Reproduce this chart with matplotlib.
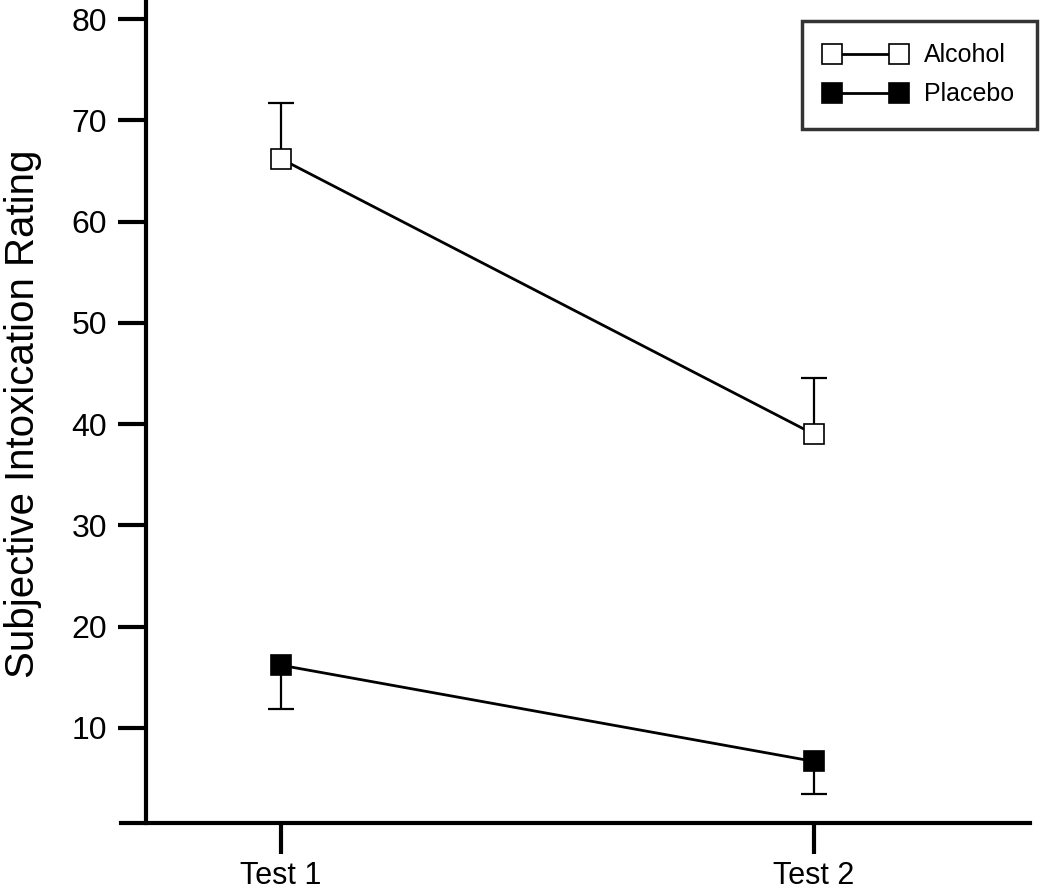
import matplotlib
matplotlib.use("Agg")
import matplotlib.pyplot as plt
import numpy as np

plt.rcParams['font.family'] = ['Liberation Sans', 'DejaVu Sans']

categories = ["Test 1", "Test 2"]
x_pos = [1, 2]
alcohol = [66.2, 39.0]
alcohol_err_up = [5.5, 5.6]
placebo = [16.2, 6.7]
placebo_err_down = [4.3, 3.2]
y_ticks = [10, 20, 30, 40, 50, 60, 70, 80]

fig = plt.figure(figsize=(10.5, 8.9), dpi=100)
ax = fig.add_axes([121/1050, (890-823)/890, (1030-121)/1050, 823/890])

x = np.array(x_pos, dtype=float)
a = np.array(alcohol)
p = np.array(placebo)
ae = np.array(alcohol_err_up)
pe = np.array(placebo_err_down)

lw_err = 1.6
cap_ms = 19
# error bars (one-sided)
ax.vlines(x, a, a + ae, colors='black', linewidth=lw_err, zorder=2)
ax.plot(x, a + ae, linestyle='none', marker='_', markersize=cap_ms, markeredgewidth=lw_err, color='black', zorder=2)
ax.vlines(x, p - pe, p, colors='black', linewidth=lw_err, zorder=2)
ax.plot(x, p - pe, linestyle='none', marker='_', markersize=cap_ms, markeredgewidth=lw_err, color='black', zorder=2)

ax.plot(x, a, color='black', linewidth=2.0, marker='s', markersize=14,
        markerfacecolor='white', markeredgecolor='black', markeredgewidth=1.2,
        label='Alcohol', zorder=3)
ax.plot(x, p, color='black', linewidth=2.0, marker='s', markersize=14,
        markerfacecolor='black', markeredgecolor='black', markeredgewidth=1.2,
        label='Placebo', zorder=3)

ax.set_xlim(0.70, 2.405)
ax.set_ylim(0.62, 81.88)

ax.spines['top'].set_visible(False)
ax.spines['right'].set_visible(False)
ax.spines['left'].set_position(('data', 0.747))
for s in ['left', 'bottom']:
    ax.spines[s].set_linewidth(3)

ax.set_yticks(y_ticks)
ax.set_xticks(x_pos)
ax.set_xticklabels(categories)
ax.tick_params(axis='y', direction='out', length=20, width=3, labelsize=23, pad=8)
ax.tick_params(axis='x', direction='out', length=22, width=3, labelsize=22, pad=5)

ax.set_ylabel('Subjective Intoxication Rating', fontsize=29)
ax.yaxis.set_label_coords(-0.087, 0.497)

leg = ax.legend(loc='upper right', bbox_to_anchor=(1.0077, 0.9745), numpoints=2,
                handlelength=3.3, fontsize=18, frameon=True, fancybox=False,
                borderpad=0.9, labelspacing=0.6, handletextpad=0.7, borderaxespad=0,
                markerscale=1.05)
leg.get_frame().set_edgecolor('black')
leg.get_frame().set_linewidth(2.5)

fig.savefig('out.png', dpi=100)
